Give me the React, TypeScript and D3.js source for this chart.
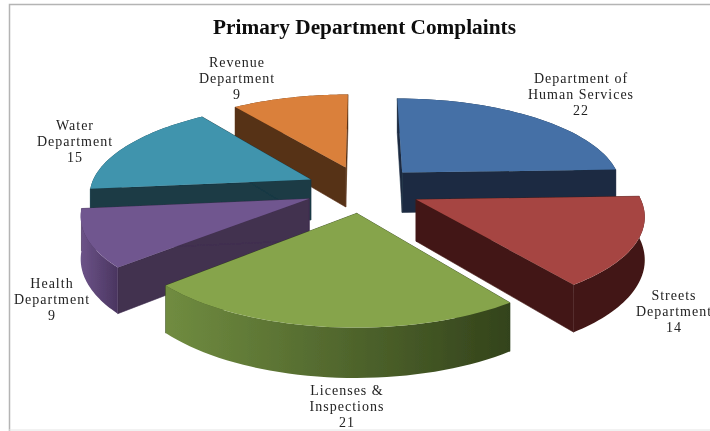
import React from "react";
import * as d3 from "d3";

const title = "Primary Department Complaints";
const categories = [
  "Department of Human Services",
  "Streets Department",
  "Licenses & Inspections",
  "Health Department",
  "Water Department",
  "Revenue Department",
];
const values = [22, 14, 21, 9, 15, 9];
const labelLines = [
  ["Department of", "Human Services"],
  ["Streets", "Department"],
  ["Licenses &", "Inspections"],
  ["Health", "Department"],
  ["Water", "Department"],
  ["Revenue", "Department"],
];
const labelAnchors: [number, number][] = [
  [581, 83],
  [674, 300],
  [347, 395],
  [52, 288],
  [75, 130],
  [237, 67],
];
const topColors = ["#4470A6", "#A64543", "#86A44C", "#70568F", "#3F94AD", "#DA803A"];
const sideColors = ["#1B2C42", "#431915", "#33431B", "#423050", "#1A3A45", "#573016"];
const wallStart = ["#1B2C42", "#431915", "#708C40", "#6C5388", "#1A3A45", "#573016"];
const wallEnd = ["#1B2C42", "#431915", "#33431B", "#4A3560", "#1A3A45", "#573016"];
const paintOrder = [5, 0, 4, 3, 1, 2];

const R = 221, F = 1500, TILT = 0.405, DEPTH = 41, EXPLODE = 58, CX = 363, CY = 189;

type P = [number, number];
function project(px: number, fwd: number, drop: number): P {
  const s = F / (F - fwd);
  return [CX + px * s, CY + (fwd * TILT + drop) * s];
}

const pieData = d3.pie<number>().sort(null)(values);
const lineGen = d3.line<P>().x((d) => d[0]).y((d) => d[1]);

function slicePaths(startAngle: number, endAngle: number) {
  const mid = (startAngle + endAngle) / 2;
  const ox = EXPLODE * Math.sin(mid);
  const of = -EXPLODE * Math.cos(mid);
  const at = (a: number, r: number, drop: number) =>
    project(ox + r * Math.sin(a), of - r * Math.cos(a), drop);
  const angles = d3.range(0, 41).map((i) => startAngle + ((endAngle - startAngle) * i) / 40);
  const topRim = angles.map((a) => at(a, R, 0));
  const lowRim = angles.map((a) => at(a, R, DEPTH));
  const apex = at(0, 0, 0);
  const apexLow = at(0, 0, DEPTH);
  return {
    top: lineGen([apex, ...topRim])! + "Z",
    wall: lineGen([...topRim, ...lowRim.slice().reverse()])! + "Z",
    startFace: lineGen([apex, topRim[0], lowRim[0], apexLow])! + "Z",
    endFace: lineGen([apex, topRim[40], lowRim[40], apexLow])! + "Z",
    xMin: d3.min(topRim, (d) => d[0])!,
    xMax: d3.max(topRim, (d) => d[0])!,
  };
}

export default function App() {
  const slices = pieData.map((d) => slicePaths(d.startAngle, d.endAngle));
  return (
    <svg
      width={710}
      height={431}
      style={{ position: "fixed", left: 0, top: 0, background: "#fff" }}
    >
      <defs>
        <filter id="soft" x="-5%" y="-5%" width="110%" height="110%">
          <feGaussianBlur stdDeviation="0.45" />
        </filter>
        {slices.map((s, i) => (
          <linearGradient
            key={i}
            id={`wall${i}`}
            gradientUnits="userSpaceOnUse"
            x1={s.xMin}
            x2={s.xMax}
            y1={0}
            y2={0}
          >
            <stop offset="0" stopColor={wallStart[i]} />
            <stop offset="1" stopColor={wallEnd[i]} />
          </linearGradient>
        ))}
      </defs>
      <g filter="url(#soft)">
        <path d="M9.5 431V4.5H710" fill="none" stroke="#b4b4b4" strokeWidth={1.5} />
        <line x1={9} x2={710} y1={430} y2={430} stroke="#e4e4e4" />
        {paintOrder.map((i) => (
          <g key={categories[i]}>
            <path d={slices[i].startFace} fill={sideColors[i]} stroke={sideColors[i]} strokeWidth={0.6} />
            <path d={slices[i].endFace} fill={sideColors[i]} stroke={sideColors[i]} strokeWidth={0.6} />
            <path d={slices[i].wall} fill={`url(#wall${i})`} />
            <path d={slices[i].top} fill={topColors[i]} />
          </g>
        ))}
        <text
          x={364.5}
          y={34}
          textAnchor="middle"
          fontFamily="'Liberation Serif', serif"
          fontWeight="bold"
          fontSize={21.3}
          fill="#111"
        >
          {title}
        </text>
        {categories.map((c, i) => (
          <text
            key={c}
            textAnchor="middle"
            fontFamily="'Liberation Serif', serif"
            fontSize={14}
            letterSpacing={1}
            fill="#222"
          >
            {[...labelLines[i], String(values[i])].map((line, j) => (
              <tspan key={j} x={labelAnchors[i][0]} y={labelAnchors[i][1] + j * 16}>
                {line}
              </tspan>
            ))}
          </text>
        ))}
      </g>
    </svg>
  );
}
